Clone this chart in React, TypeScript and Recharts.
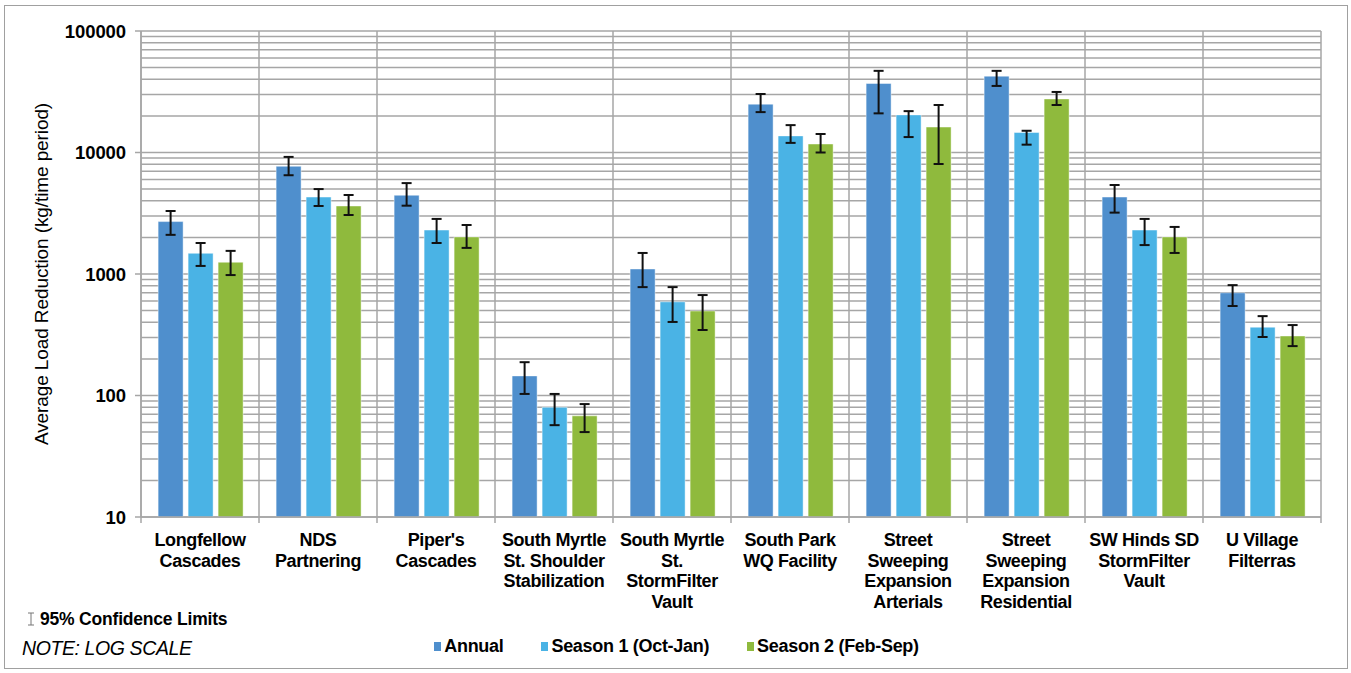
import React from 'react';
import { BarChart, Bar, XAxis, YAxis, CartesianGrid, ErrorBar } from 'recharts';

const FONT = '"Liberation Sans", Arial, Helvetica, sans-serif';

const categories = [
  'Longfellow\nCascades',
  'NDS\nPartnering',
  "Piper's\nCascades",
  'South Myrtle\nSt. Shoulder\nStabilization',
  'South Myrtle\nSt.\nStormFilter\nVault',
  'South Park\nWQ Facility',
  'Street\nSweeping\nExpansion\nArterials',
  'Street\nSweeping\nExpansion\nResidential',
  'SW Hinds SD\nStormFilter\nVault',
  'U Village\nFilterras',
];

const annual = [2700, 7700, 4450, 145, 1100, 25000, 37000, 42500, 4300, 700];
const annualLow = [2100, 6500, 3650, 103, 780, 21500, 21000, 35300, 3200, 545];
const annualHigh = [3300, 9200, 5600, 188, 1490, 30300, 47000, 47000, 5400, 810];

const season1 = [1480, 4300, 2300, 80, 590, 13700, 20400, 14600, 2300, 365];
const season1Low = [1165, 3630, 1800, 57, 403, 12000, 13400, 11600, 1730, 303];
const season1High = [1800, 5000, 2840, 103, 780, 16800, 21900, 15100, 2840, 450];

const season2 = [1250, 3630, 2020, 68, 496, 11750, 16200, 27600, 2020, 309];
const season2Low = [980, 3060, 1640, 50, 346, 10000, 8040, 24600, 1490, 255];
const season2High = [1550, 4470, 2530, 85, 671, 14200, 24600, 31500, 2440, 380];

const seriesKeys = ['annual', 'season1', 'season2'];
const seriesNames = ['Annual', 'Season 1 (Oct-Jan)', 'Season 2 (Feb-Sep)'];
const seriesColors = ['#4F8FCD', '#4AB3E5', '#8FBA3D'];

const majorTicks = [10, 100, 1000, 10000, 100000];
const minorMultipliers = [2, 3, 4, 5, 6, 7, 8, 9];
const yTicks: number[] = [];
majorTicks.forEach((m, i) => {
  yTicks.push(m);
  if (i < majorTicks.length - 1) minorMultipliers.forEach((k) => yTicks.push(m * k));
});

const data = categories.map((name, i) => ({
  name,
  annual: annual[i],
  annualErr: [annual[i] - annualLow[i], annualHigh[i] - annual[i]],
  season1: season1[i],
  season1Err: [season1[i] - season1Low[i], season1High[i] - season1[i]],
  season2: season2[i],
  season2Err: [season2[i] - season2Low[i], season2High[i] - season2[i]],
}));

const GRID = '#a6a6a6';

const XTick = (props: any) => {
  const { x, y, payload, width, visibleTicksCount, index } = props;
  const half = payload.offset || width / visibleTicksCount / 2;
  const lines = String(payload.value).split('\n');
  return (
    <g>
      <line x1={x - half} x2={x - half} y1={y} y2={y + 6} stroke={GRID} strokeWidth={1.5} />
      {index === visibleTicksCount - 1 && (
        <line x1={x + half} x2={x + half} y1={y} y2={y + 6} stroke={GRID} strokeWidth={1.5} />
      )}
      <text
        x={x}
        y={y + 29}
        textAnchor="middle"
        fontFamily={FONT}
        fontWeight="bold"
        fontSize={18}
        letterSpacing={-0.4}
        fill="#000"
      >
        {lines.map((l, i) => (
          <tspan key={i} x={x} dy={i === 0 ? 0 : 20.5}>
            {l}
          </tspan>
        ))}
      </text>
    </g>
  );
};

const YTick = (props: any) => {
  const { x, y, payload } = props;
  if (!majorTicks.includes(payload.value)) return null;
  return (
    <g>
      <line x1={x} x2={x + 6} y1={y} y2={y} stroke={GRID} strokeWidth={1.5} />
      <text
        x={x - 9}
        y={y}
        dy="0.36em"
        textAnchor="end"
        fontFamily={FONT}
        fontWeight="bold"
        fontSize={18.5}
        letterSpacing={-0.1}
        fill="#000"
      >
        {payload.value}
      </text>
    </g>
  );
};

const YLabel = (props: any) => {
  const vb = props.viewBox || { x: 0, y: 31, width: 141, height: 486 };
  const cx = vb.x + 41;
  const cy = vb.y + vb.height / 2;
  return (
    <text
      x={cx}
      y={cy}
      transform={`rotate(-90 ${cx} ${cy})`}
      textAnchor="middle"
      dominantBaseline="central"
      fontFamily={FONT}
      fontSize={19}
      letterSpacing={-0.1}
      fill="#000"
    >
      Average Load Reduction (kg/time period)
    </text>
  );
};

const verticalGen = ({ offset, width }: any) => {
  const plotW = offset.width ?? width - offset.left - offset.right;
  return categories.map((_, i) => offset.left + (i * plotW) / categories.length).concat(offset.left + plotW);
};

export default function App() {
  return (
    <div style={{ position: 'absolute', left: 0, top: 0, width: 1351, height: 673, background: '#fff', fontFamily: FONT }}>
      <div
        style={{
          position: 'absolute',
          left: 4,
          top: 5,
          width: 1344,
          height: 664,
          border: '1.5px solid #a0a0a0',
          boxSizing: 'border-box',
        }}
      />
      <div style={{ position: 'absolute', left: 0, top: 0 }}>
        <BarChart
          width={1351}
          height={673}
          data={data}
          margin={{ top: 31, right: 30, left: 0, bottom: 0 }}
          barCategoryGap="14.5%"
          barGap={5}
        >
          <CartesianGrid stroke={GRID} strokeWidth={1.5} verticalCoordinatesGenerator={verticalGen} />
          <XAxis
            dataKey="name"
            height={156}
            interval={0}
            tickLine={false}
            tickSize={0}
            tickMargin={0}
            axisLine={{ stroke: GRID, strokeWidth: 1.5 }}
            tick={<XTick />}
          />
          <YAxis
            type="number"
            scale="log"
            domain={[10, 100000]}
            allowDataOverflow
            ticks={yTicks}
            interval={0}
            width={141}
            tickLine={false}
            tickSize={6}
            tickMargin={0}
            axisLine={{ stroke: GRID, strokeWidth: 1.5 }}
            tick={<YTick />}
            label={<YLabel />}
          />
          {seriesKeys.map((k, i) => (
            <Bar
              key={k}
              dataKey={k}
              name={seriesNames[i]}
              fill={seriesColors[i]}
              stroke="#ffffff"
              strokeOpacity={0.45}
              strokeWidth={1}
              isAnimationActive={false}
            >
              <ErrorBar dataKey={`${k}Err`} width={5} stroke="#111" strokeWidth={2} isAnimationActive={false} />
            </Bar>
          ))}
        </BarChart>
      </div>

      {/* confidence note */}
      <div style={{ position: 'absolute', left: 26, top: 608, height: 22, display: 'flex', alignItems: 'center' }}>
        <svg width={10} height={14} style={{ marginRight: 4 }}>
          <line x1={5} x2={5} y1={1} y2={13} stroke="#777" strokeWidth={1} />
          <line x1={2} x2={8} y1={1} y2={1} stroke="#777" strokeWidth={1} />
          <line x1={2} x2={8} y1={13} y2={13} stroke="#777" strokeWidth={1} />
        </svg>
        <span style={{ fontWeight: 'bold', fontSize: 17.5, letterSpacing: -0.2, color: '#000' }}>95% Confidence Limits</span>
      </div>
      <div
        style={{
          position: 'absolute',
          left: 22,
          top: 637,
          height: 22,
          lineHeight: '22px',
          fontStyle: 'italic',
          fontSize: 19.5,
          letterSpacing: -0.4,
          color: '#000',
        }}
      >
        NOTE: LOG SCALE
      </div>

      {/* legend */}
      <div
        style={{
          position: 'absolute',
          left: 0,
          top: 635,
          width: 1351,
          height: 22,
          display: 'flex',
          justifyContent: 'center',
          alignItems: 'center',
          gap: 38,
          paddingLeft: 2,
          boxSizing: 'border-box',
        }}
      >
        {seriesNames.map((n, i) => (
          <div key={n} style={{ display: 'flex', alignItems: 'center' }}>
            <div style={{ width: 7, height: 9, background: seriesColors[i], marginRight: 3 }} />
            <span style={{ fontWeight: 'bold', fontSize: 18, letterSpacing: -0.3, color: '#000' }}>{n}</span>
          </div>
        ))}
      </div>
    </div>
  );
}
